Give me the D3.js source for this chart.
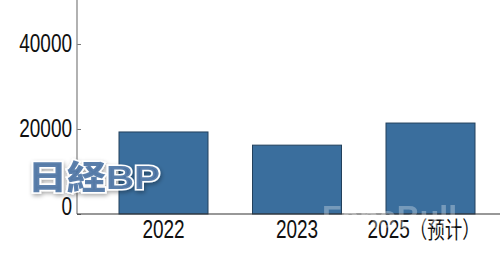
<!DOCTYPE html>
<html>
<head>
<meta charset="utf-8">
<script src="https://cdn.jsdelivr.net/npm/d3@7"></script>
<style>
  body { margin: 0; background: #fff; }
  svg text { font-family: "Liberation Sans", "Noto Sans CJK SC", sans-serif; }
</style>
</head>
<body>
<svg id="chart" width="500" height="255"></svg>
<script>
var years = ["2022", "2023", "2025"];
var yearNotes = ["", "", "（预计）"];
var values = [19300, 16200, 21400];
var yTicks = [0, 20000, 40000];

var svg = d3.select("#chart"),
    plotLeft = 77, plotBottom = 214, plotTop = 0, plotRight = 500,
    squeeze = 0.76;

var x = d3.scaleBand()
  .domain(years)
  .range([96.75, 497.25])
  .paddingInner(1/3)
  .paddingOuter(1/6);

var y = d3.scaleLinear()
  .domain([0, 50350])
  .range([plotBottom, plotTop]);

// bars
svg.selectAll("rect.bar")
  .data(values)
  .enter().append("rect")
  .attr("class", "bar")
  .attr("x", function(d, i) { return x(years[i]); })
  .attr("y", function(d) { return y(d); })
  .attr("width", x.bandwidth())
  .attr("height", function(d) { return plotBottom - y(d); })
  .attr("fill", "#3a6e9d")
  .attr("stroke", "#22405c")
  .attr("stroke-width", 1);

// y axis
var yAxis = svg.append("g")
  .attr("transform", "translate(" + plotLeft + ",0)")
  .call(d3.axisLeft(y).tickValues(yTicks).tickSize(-4).tickFormat(d3.format("d")));
yAxis.select(".domain").remove();
yAxis.selectAll(".tick line").attr("stroke", "#777");
yAxis.selectAll(".tick text")
  .attr("x", 0)
  .attr("dy", function(d) { return d === 0 ? "0.02em" : "0.32em"; })
  .attr("transform", "translate(-5,0) scale(" + squeeze + ",1)")
  .attr("font-size", 25).attr("fill", "#111");
svg.append("line")
  .attr("x1", plotLeft).attr("x2", plotLeft)
  .attr("y1", plotTop).attr("y2", plotBottom)
  .attr("stroke", "#888").attr("stroke-width", 1.3);

// x axis
var xAxis = svg.append("g")
  .attr("transform", "translate(0," + plotBottom + ")")
  .call(d3.axisBottom(x).tickSize(0));
xAxis.select(".domain").remove();
xAxis.selectAll(".tick text")
  .attr("y", 24).attr("dy", 0)
  .attr("x", function(d, i) { return yearNotes[i] ? -9 : 0; })
  .attr("transform", "scale(" + squeeze + ",1)")
  .attr("font-size", 25).attr("fill", "#111")
  .each(function(d, i) {
    if (yearNotes[i]) {
      d3.select(this).append("tspan")
        .attr("font-size", 23).attr("font-family", "Noto Sans CJK SC")
        .text(yearNotes[i]);
    }
  });
svg.append("line")
  .attr("x1", plotLeft).attr("x2", plotRight)
  .attr("y1", plotBottom).attr("y2", plotBottom)
  .attr("stroke", "#333").attr("stroke-width", 1.2);

// watermarks
svg.append("text")
  .attr("x", 322).attr("y", 228)
  .attr("font-size", 32).attr("font-weight", "bold")
  .attr("fill", "#fff").attr("opacity", 0.3)
  .text("FanaBull");

var defs = svg.append("defs");
var f = defs.append("filter").attr("id", "sh").attr("x", "-10%").attr("y", "-20%").attr("width", "130%").attr("height", "150%");
f.append("feDropShadow").attr("dx", 1).attr("dy", 2).attr("stdDeviation", 2).attr("flood-color", "#000").attr("flood-opacity", 0.35);

svg.append("text")
  .attr("x", 28).attr("y", 189)
  .attr("font-size", 33).attr("font-weight", "900")
  .attr("font-family", "Noto Sans CJK JP, sans-serif")
  .attr("fill", "#4a72a3").attr("fill-opacity", 0.9)
  .attr("stroke", "#fff").attr("stroke-width", 3).attr("paint-order", "stroke")
  .attr("filter", "url(#sh)")
  .attr("textLength", 132).attr("lengthAdjust", "spacingAndGlyphs")
  .text("日経BP");
</script>
</body>
</html>
